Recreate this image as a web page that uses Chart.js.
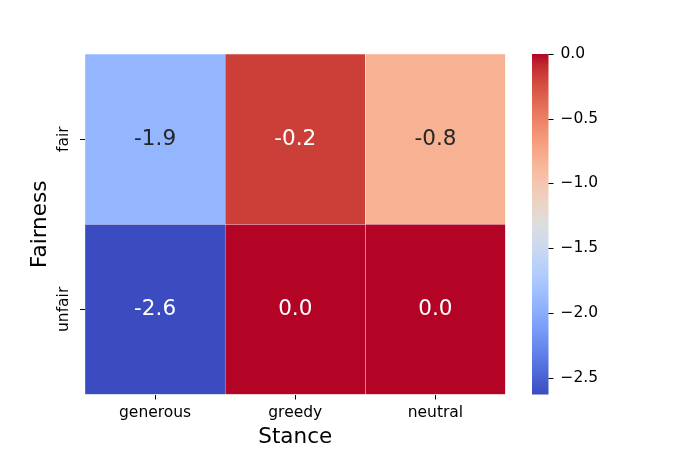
<!DOCTYPE html>
<html>
<head>
<meta charset="utf-8">
<script src="https://cdn.jsdelivr.net/npm/chart.js@4.4.0/dist/chart.umd.min.js"></script>
<style>
  body { margin: 0; background: #fff; }
</style>
</head>
<body>
<canvas id="heatmap" width="679" height="452"></canvas>
<script>
// heatmap values, rows top to bottom
const stances = ['generous', 'greedy', 'neutral'];
const fairness = ['fair', 'unfair'];
const fairValues = [-1.92, -0.17, -0.82];
const unfairValues = [-2.63, 0.0, 0.0];
const colorbarTicks = [0.0, -0.5, -1.0, -1.5, -2.0, -2.5];

const allValues = fairValues.concat(unfairValues);
const vmin = Math.min.apply(null, allValues);
const vmax = Math.max.apply(null, allValues);

// matplotlib coolwarm, 33 evenly spaced samples
const coolwarmTable = [
  [0.2298, 0.2987, 0.7537], [0.2662, 0.3531, 0.8015], [0.3039, 0.4065, 0.8450],
  [0.3428, 0.4588, 0.8837], [0.3830, 0.5094, 0.9174], [0.4244, 0.5581, 0.9456],
  [0.4667, 0.6046, 0.9682], [0.5096, 0.6483, 0.9848], [0.5530, 0.6889, 0.9954],
  [0.5963, 0.7261, 0.9998], [0.6392, 0.7596, 0.9982], [0.6813, 0.7890, 0.9904],
  [0.7222, 0.8140, 0.9766], [0.7615, 0.8343, 0.9569], [0.7987, 0.8498, 0.9317],
  [0.8335, 0.8602, 0.9011], [0.8654, 0.8654, 0.8654], [0.8978, 0.8489, 0.8209],
  [0.9241, 0.8274, 0.7745], [0.9445, 0.8009, 0.7267], [0.9589, 0.7698, 0.6780],
  [0.9673, 0.7341, 0.6288], [0.9700, 0.6943, 0.5794], [0.9668, 0.6504, 0.5303],
  [0.9580, 0.6028, 0.4818], [0.9437, 0.5518, 0.4342], [0.9239, 0.4973, 0.3880],
  [0.8990, 0.4396, 0.3432], [0.8692, 0.3783, 0.3003], [0.8346, 0.3129, 0.2593],
  [0.7956, 0.2413, 0.2205], [0.7525, 0.1572, 0.1841], [0.7057, 0.0156, 0.1502]
];

function coolwarmRgb(t) {
  t = Math.max(0, Math.min(1, t));
  const pos = t * (coolwarmTable.length - 1);
  const i = Math.min(Math.floor(pos), coolwarmTable.length - 2);
  const f = pos - i;
  const a = coolwarmTable[i], b = coolwarmTable[i + 1];
  return [0, 1, 2].map(k => a[k] + (b[k] - a[k]) * f);
}

function toCss(rgb) {
  return 'rgb(' + rgb.map(c => Math.round(c * 255)).join(',') + ')';
}

function cellColor(v) {
  return toCss(coolwarmRgb((v - vmin) / (vmax - vmin)));
}

// seaborn picks dark or white annotation text by luminance
function textColor(v) {
  const rgb = coolwarmRgb((v - vmin) / (vmax - vmin)).map(c =>
    c <= 0.03928 ? c / 12.92 : Math.pow((c + 0.055) / 1.055, 2.4));
  const lum = 0.2126 * rgb[0] + 0.7152 * rgb[1] + 0.0722 * rgb[2];
  return lum > 0.408 ? '#262626' : '#ffffff';
}

function minusSign(v) {
  return v.toFixed(1).replace('-', '\u2212');
}

// keep tick label padding out of the chart area layout
function noScalePadding(scale) {
  scale.paddingTop = 0;
  scale.paddingBottom = 0;
  scale.paddingLeft = 0;
  scale.paddingRight = 0;
}

const FONT = 'DejaVu Sans';

const cellLabels = {
  id: 'cellLabels',
  afterDatasetsDraw(chart) {
    const ctx = chart.ctx;
    ctx.save();
    ctx.font = '21.5px "' + FONT + '"';
    ctx.textAlign = 'center';
    ctx.textBaseline = 'middle';
    chart.data.datasets.forEach((ds, di) => {
      chart.getDatasetMeta(di).data.forEach((el, i) => {
        const v = ds.values[i];
        ctx.fillStyle = textColor(v);
        ctx.fillText(v.toFixed(1), el.x, (el.y + el.base) / 2);
      });
    });
    ctx.restore();
  }
};

const colorbar = {
  id: 'colorbar',
  afterDraw(chart) {
    const ctx = chart.ctx;
    const scale = chart.scales.cb;
    const x0 = chart.chartArea.right + 26.5;
    const w = 16.5;
    const top = scale.getPixelForValue(vmax);
    const bottom = scale.getPixelForValue(vmin);
    const grad = ctx.createLinearGradient(0, bottom, 0, top);
    coolwarmTable.forEach((c, i) => {
      grad.addColorStop(i / (coolwarmTable.length - 1), toCss(c));
    });
    ctx.save();
    ctx.fillStyle = grad;
    ctx.fillRect(x0, top, w, bottom - top);
    ctx.strokeStyle = '#000';
    ctx.lineWidth = 1;
    colorbarTicks.forEach(t => {
      const y = Math.round(scale.getPixelForValue(t)) + 0.5;
      ctx.beginPath();
      ctx.moveTo(x0 + w, y);
      ctx.lineTo(x0 + w + 5, y);
      ctx.stroke();
    });
    ctx.restore();
  }
};

new Chart(document.getElementById('heatmap'), {
  type: 'bar',
  data: {
    labels: stances,
    datasets: [
      {
        label: fairness[1],
        values: unfairValues,
        data: unfairValues.map(() => 1),
        backgroundColor: unfairValues.map(cellColor),
        borderColor: 'rgba(255,255,255,0.85)',
        borderWidth: 0.5,
        categoryPercentage: 1,
        barPercentage: 1
      },
      {
        label: fairness[0],
        values: fairValues,
        data: fairValues.map(() => 1),
        backgroundColor: fairValues.map(cellColor),
        borderColor: 'rgba(255,255,255,0.85)',
        borderWidth: 0.5,
        categoryPercentage: 1,
        barPercentage: 1
      }
    ]
  },
  options: {
    responsive: false,
    animation: false,
    layout: { padding: { top: 54, left: 0, right: 0, bottom: 0 } },
    plugins: {
      legend: { display: false },
      tooltip: { enabled: false }
    },
    scales: {
      x: {
        stacked: true,
        border: { display: false },
        grid: { offset: false, drawOnChartArea: false, tickLength: 5, color: '#000' },
        ticks: { color: '#000', padding: 4, font: { family: FONT, size: 15.5 } },
        title: {
          display: true, text: 'Stance', color: '#000',
          font: { family: FONT, size: 21.5 }, padding: { top: 0, bottom: 2 }
        },
        afterFit(scale) { noScalePadding(scale); scale.height = 57.5; }
      },
      y: {
        stacked: true,
        min: 0,
        max: 2,
        border: { display: false },
        grid: { drawOnChartArea: false, tickLength: 5, color: '#000' },
        afterBuildTicks(scale) {
          scale.ticks = [{ value: 0.5 }, { value: 1.5 }];
        },
        ticks: {
          color: '#000',
          minRotation: 90,
          maxRotation: 90,
          crossAlign: 'center',
          padding: -7,
          font: { family: FONT, size: 15.5 },
          callback: v => (v === 1.5 ? fairness[0] : fairness[1])
        },
        title: {
          display: true, text: 'Fairness', color: '#000',
          font: { family: FONT, size: 21.5 }, padding: { top: 28, bottom: 0 }
        },
        afterFit(scale) { noScalePadding(scale); scale.width = 85; }
      },
      cb: {
        type: 'linear',
        position: 'right',
        min: vmin,
        max: vmax,
        border: { display: false },
        grid: { display: false, drawTicks: false },
        afterBuildTicks(scale) {
          scale.ticks = colorbarTicks.map(v => ({ value: v }));
        },
        ticks: {
          color: '#000',
          padding: 55,
          font: { family: FONT, size: 15.5 },
          callback: v => minusSign(v)
        },
        afterFit(scale) { noScalePadding(scale); scale.width = 173.5; }
      }
    }
  },
  plugins: [cellLabels, colorbar]
});
</script>
</body>
</html>
